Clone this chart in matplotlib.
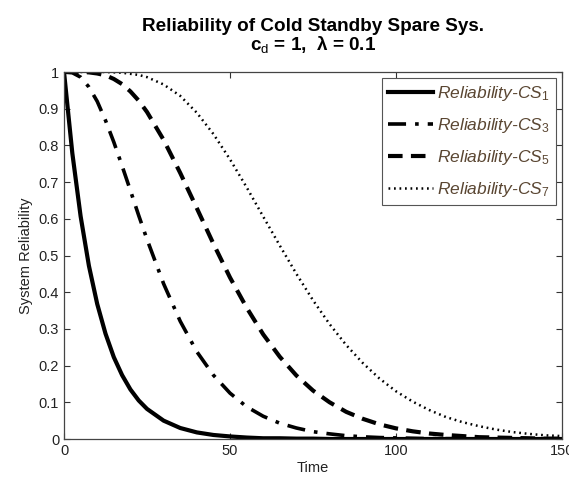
import matplotlib
matplotlib.use("Agg")
import matplotlib.pyplot as plt

plt.rcParams['font.family'] = ['Liberation Sans', 'DejaVu Sans']
plt.rcParams['mathtext.fontset'] = 'custom'
plt.rcParams['mathtext.rm'] = 'Liberation Sans'
plt.rcParams['mathtext.it'] = 'Liberation Sans:italic'
plt.rcParams['mathtext.bf'] = 'Liberation Sans:bold'

# values
time = [0, 2.5, 5, 7.5, 10, 12.5, 15, 17.5, 20, 22.5, 25,
        30, 35, 40, 45, 50, 55, 60, 65, 70, 75, 80, 85, 90, 95,
        100, 105, 110, 115, 120, 125, 130, 135, 140, 145, 150]

rel_cs1 = [1.0, 0.779, 0.607, 0.472, 0.368, 0.287, 0.223, 0.174, 0.135, 0.105, 0.082,
           0.050, 0.030, 0.018, 0.011, 0.007, 0.004, 0.002, 0.002, 0.001, 0.001, 0, 0, 0, 0,
           0, 0, 0, 0, 0, 0, 0, 0, 0, 0, 0]
rel_cs3 = [1.0, 0.998, 0.986, 0.959, 0.920, 0.868, 0.809, 0.744, 0.677, 0.609, 0.544,
           0.423, 0.321, 0.238, 0.174, 0.125, 0.088, 0.062, 0.043, 0.030, 0.020, 0.014, 0.009, 0.006, 0.004,
           0.003, 0.002, 0.001, 0.001, 0.001, 0, 0, 0, 0, 0, 0]
rel_cs5 = [1.0, 1.0, 1.0, 0.999, 0.996, 0.991, 0.981, 0.967, 0.947, 0.922, 0.891,
           0.815, 0.725, 0.629, 0.532, 0.440, 0.358, 0.285, 0.224, 0.173, 0.132, 0.100, 0.074, 0.055, 0.040,
           0.029, 0.021, 0.015, 0.011, 0.008, 0.005, 0.004, 0.003, 0.002, 0.001, 0.001]
rel_cs7 = [1.0, 1.0, 1.0, 1.0, 1.0, 1.0, 0.999, 0.998, 0.995, 0.992, 0.986,
           0.966, 0.935, 0.889, 0.831, 0.762, 0.686, 0.606, 0.527, 0.450, 0.378, 0.313, 0.256, 0.207, 0.165,
           0.130, 0.102, 0.079, 0.060, 0.046, 0.035, 0.026, 0.019, 0.014, 0.010, 0.008]

labels = [r'Reliability-CS$_{\mathit{1}}$', r'Reliability-CS$_{\mathit{3}}$',
          r'Reliability-CS$_{\mathit{5}}$', r'Reliability-CS$_{\mathit{7}}$']
yticks = [0, 0.1, 0.2, 0.3, 0.4, 0.5, 0.6, 0.7, 0.8, 0.9, 1]
ytick_labels = ['0', '0.1', '0.2', '0.3', '0.4', '0.5', '0.6', '0.7', '0.8', '0.9', '1']
xticks = [0, 50, 100, 150]

fig = plt.figure(figsize=(5.69, 4.8), dpi=100)
ax = fig.add_axes([0.1125, 0.0854, 0.8752, 0.7646])

ax.plot(time, rel_cs1, color='black', lw=3.0, linestyle='-', label=labels[0])
ax.plot(time, rel_cs3, color='black', lw=2.6, linestyle=(0, (5, 2.5, 1, 2.5)), label=labels[1])
ax.plot(time, rel_cs5, color='black', lw=3.0, linestyle=(0, (3.5, 2)), label=labels[2])
ax.plot(time, rel_cs7, color='black', lw=1.8, linestyle=(0, (0.7, 1.5)), label=labels[3])

ax.set_xlim(0, 150)
ax.set_ylim(0, 1)
ax.set_xticks(xticks)
ax.set_xticklabels([str(x) for x in xticks])
ax.set_yticks(yticks)
ax.set_yticklabels(ytick_labels)
ax.tick_params(direction='in', top=True, right=True, labelsize=10.5,
               colors='#333333', labelcolor='#222222', length=4, width=0.8)
for sp in ax.spines.values():
    sp.set_color('#444444')
    sp.set_linewidth(0.9)

ax.set_xlabel('Time', fontsize=10.5, color='#222222', labelpad=2)
ax.set_ylabel('System Reliability', fontsize=10.5, color='#222222', labelpad=4)
ax.set_title('Reliability of Cold Standby Spare Sys.\n' + r'c$_{\mathrm{d}}$ = 1,  λ = 0.1',
             fontsize=13.6, fontweight='bold', linespacing=0.95, pad=16)

leg = ax.legend(loc='upper right', fontsize=12.5, handlelength=2.6, fancybox=False,
                framealpha=1, edgecolor='#555555', borderpad=0.35, labelspacing=0.75,
                handletextpad=0.25, borderaxespad=0.35)
leg.get_frame().set_linewidth(0.8)
for txt in leg.get_texts():
    txt.set_fontstyle('italic')
    txt.set_color('#5a4632')

fig.savefig('out.png', dpi=100)
